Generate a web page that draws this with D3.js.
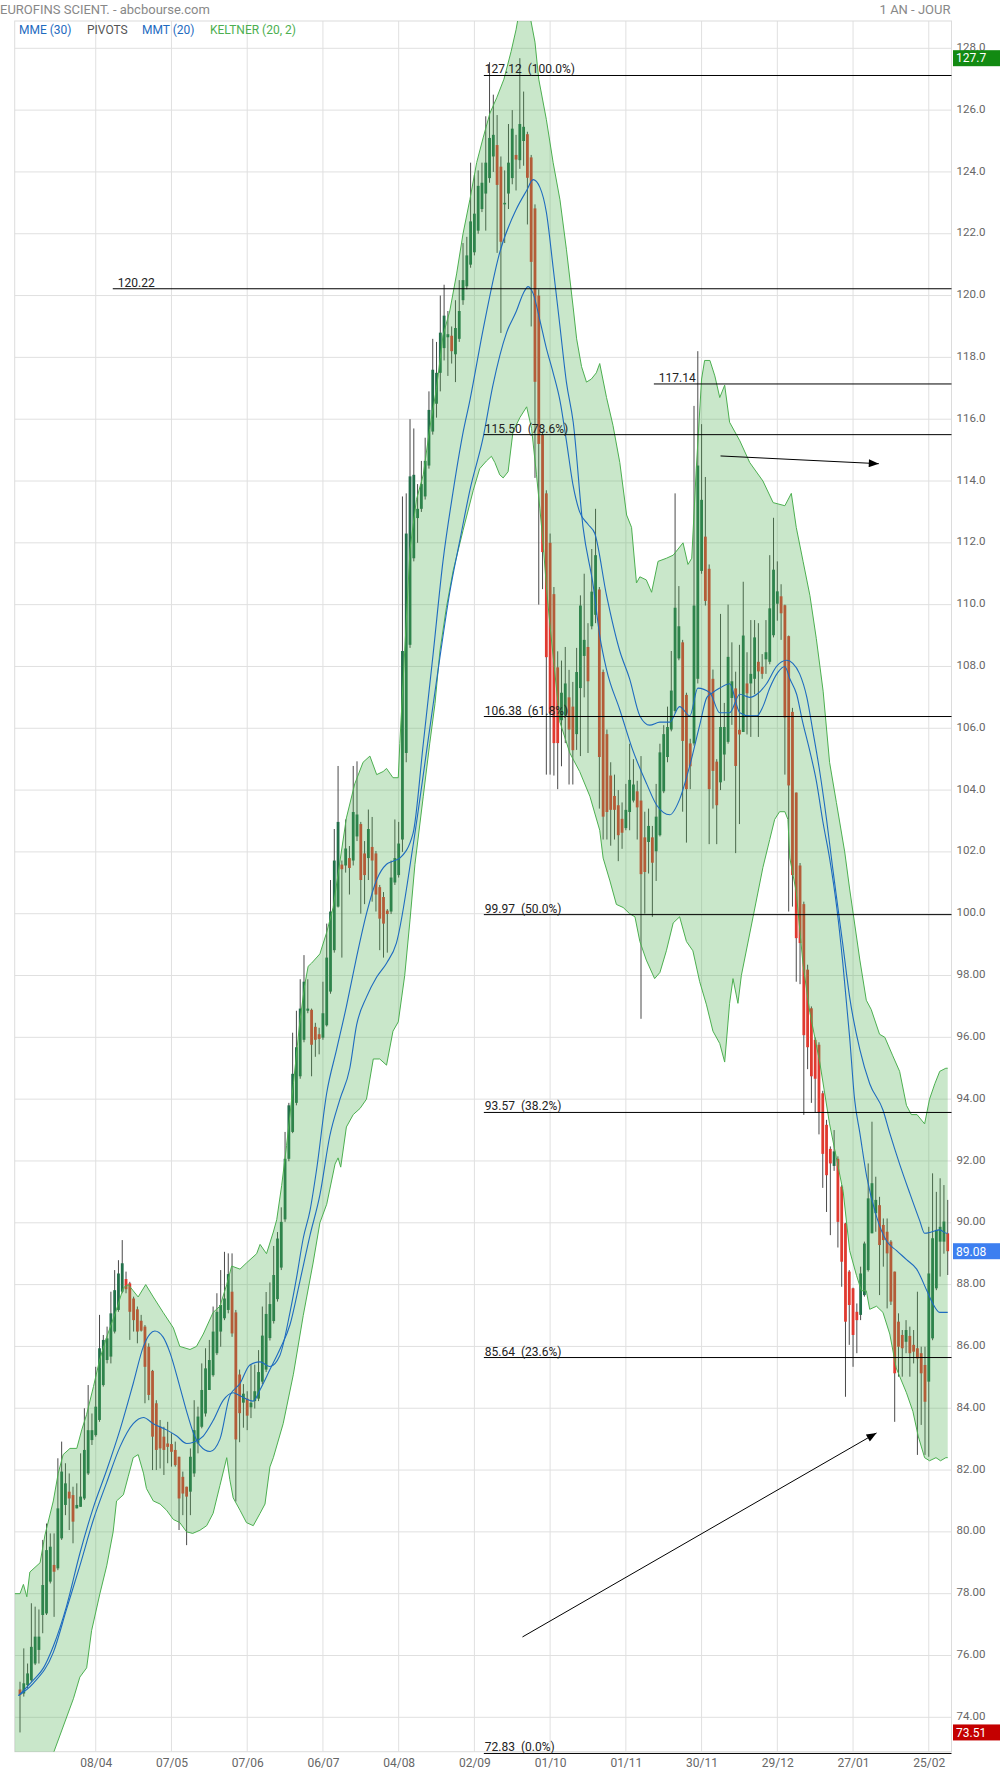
<!DOCTYPE html>
<html><head><meta charset="utf-8">
<script src="https://cdn.jsdelivr.net/npm/d3@7"></script>
<style>
body{margin:0;background:#fff;}
svg{display:block;font-family:Roboto,"Liberation Sans",sans-serif;}
</style></head><body>
<svg id="c" width="1000" height="1774"></svg>
<script>
// ---------------- DATA ----------------
const opens = [
74.90,74.77,75.04,75.20,75.74,76.18,77.31,77.36,78.39,78.93,
78.82,79.79,80.87,81.30,81.19,80.76,80.81,81.08,81.89,82.97,
83.13,83.62,84.75,85.56,85.67,86.48,87.18,87.77,88.18,88.04,
87.55,87.20,86.83,86.64,85.99,85.21,84.16,83.40,83.08,82.86,
82.84,82.65,82.43,81.78,81.46,81.30,81.89,82.86,83.40,83.83,
84.59,85.07,85.78,86.48,86.91,87.18,87.77,87.10,85.09,84.18,
84.31,84.03,84.23,84.31,84.86,85.25,86.27,86.82,87.53,88.55,
90.11,92.07,92.94,93.88,94.74,95.92,96.86,96.89,96.34,96.10,
95.99,96.39,97.48,98.82,100.23,101.59,101.56,101.80,101.72,102.50,
102.90,101.95,101.80,102.16,101.95,100.86,100.54,100.10,100.07,101.01,
101.25,102.4,105.2,108.7,111.5,112.8,113.1,113.5,114.5,115.6,
116.5,117.5,118.3,118.65,118.7,118.1,118.6,119.85,120.3,121.0,
121.4,122.1,122.8,123.3,123.8,124.5,124.87,124.17,122.95,123.3,
123.8,124.55,124.38,125.0,125.22,124.47,122.82,120.0,115.5,113.6,
112.0,110.34,107.97,106.26,106.41,107.0,106.7,105.81,107.3,108.34,
108.63,109.3,109.67,110.49,107.82,105.81,104.47,103.81,103.51,103.07,
102.77,103.29,103.66,103.96,103.66,102.47,102.32,102.47,102.02,102.54,
103.96,105.07,105.96,106.56,108.26,108.78,107.08,105.51,105.51,107.6,
111.09,112.2,111.16,107.6,104.92,104.25,105.15,105.56,106.98,107.29,
105.95,105.88,107.45,107.45,107.6,108.15,107.99,108.23,108.15,109.01,
110.03,110.27,109.98,108.98,106.53,103.92,101.56,100.31,98.19,96.94,
95.92,95.76,94.19,93.17,92.39,91.84,92.07,91.17,89.98,88.42,
87.88,87.12,87.02,87.66,88.47,89.66,90.31,90.57,89.93,89.71,
89.39,88.42,86.8,86.37,86.15,86.34,86.05,85.94,85.78,85.4,
84.86,86.26,87.88,89.39,89.39,89.66];
const highs = [
75.15,76.23,75.74,77.69,77.58,77.49,79.74,80.27,79.95,79.95,
82.38,82.92,82.22,81.89,81.46,81.57,82.54,84.00,84.75,83.83,
85.34,87.02,86.37,86.64,87.77,88.47,88.79,89.44,88.42,88.09,
87.61,87.29,87.02,86.69,86.10,85.24,84.26,83.62,83.40,83.56,
83.19,82.92,82.43,81.95,81.46,82.70,84.26,84.05,85.45,85.94,
86.21,87.29,87.72,88.47,89.06,89.01,89.01,87.18,85.25,84.78,
84.55,85.41,85.41,85.88,87.29,87.76,88.07,89.25,89.70,90.50,
92.94,93.88,96.15,96.86,97.88,98.66,97.88,96.93,96.47,96.31,
97.80,99.68,101.09,102.74,104.78,101.72,103.05,102.19,104.78,104.93,
102.97,102.35,103.37,103.13,102.03,100.93,100.70,100.15,101.72,103.05,
102.97,113.5,113.6,116.0,115.7,113.9,114.65,115.4,116.9,118.6,
118.5,120.0,120.35,119.5,119.0,119.85,120.5,121.7,121.9,124.3,
123.9,124.05,124.3,125.8,127.55,126.5,125.84,124.5,124.05,125.55,
126.0,125.2,127.68,126.6,125.3,124.55,122.95,120.2,115.6,113.7,
112.3,110.57,108.49,108.19,108.63,107.89,107.5,108.6,110.3,111.0,
109.4,111.8,113.1,110.57,107.9,105.96,104.9,104.5,104.0,103.6,
104.2,105.5,105.0,104.3,105.1,103.3,103.4,102.84,104.2,105.5,
106.1,106.7,108.5,113.6,110.6,108.86,107.15,105.66,116.43,118.2,
115.84,114.13,111.3,107.9,105.0,109.7,106.82,110.0,108.78,107.83,
108.7,110.74,108.46,109.5,109.5,109.4,108.4,109.5,111.6,112.81,
111.4,110.66,110.0,109.0,106.66,103.92,101.64,100.39,98.35,97.0,
96.0,95.84,94.27,93.33,92.47,93.0,92.15,91.22,90.0,88.47,
87.9,87.39,88.58,89.39,91.92,93.27,91.49,90.84,90.14,90.14,
89.44,88.42,87.07,86.53,86.85,86.64,86.53,87.77,85.99,85.99,
89.87,91.6,91.0,91.44,91.22,90.74];
const lows = [
73.51,74.67,74.94,75.15,75.69,75.74,76.72,77.31,78.33,77.25,
78.76,79.74,80.54,80.06,79.63,80.76,80.81,81.03,81.84,82.81,
83.08,83.56,84.70,85.45,85.45,86.42,87.12,87.72,87.72,86.21,
86.48,86.10,86.48,84.16,84.26,82.00,82.00,82.05,81.84,82.22,
82.11,82.11,80.06,80.54,79.57,80.54,81.78,82.54,83.35,83.73,
84.59,85.02,85.72,85.99,86.85,87.07,86.31,80.98,82.90,83.37,
83.29,83.68,83.99,84.23,84.78,85.17,86.19,86.74,87.45,88.47,
90.03,91.99,92.90,93.80,94.66,95.84,96.78,94.74,95.37,95.45,
95.92,96.35,97.41,98.74,100.20,98.58,101.33,100.62,101.56,102.35,
100.00,100.31,101.09,100.39,100.07,98.82,98.58,98.74,99.99,100.93,
101.17,102.0,104.9,108.6,111.4,112.0,113.0,113.4,114.4,115.5,
116.05,116.9,117.9,117.4,117.8,117.2,118.5,119.7,120.2,120.9,
121.3,122.0,122.7,122.1,123.65,124.0,121.38,118.79,121.7,122.8,
123.6,123.4,124.1,124.2,122.3,119.0,114.1,110.0,110.5,104.5,
104.5,104.47,104.03,104.77,105.52,104.18,104.18,105.3,105.1,107.0,
105.2,109.2,109.4,103.4,102.4,102.4,102.2,102.4,101.7,102.1,
102.7,102.7,103.6,102.4,96.6,100.0,101.3,99.9,101.06,102.5,
103.9,104.9,105.9,106.5,108.2,103.3,102.3,104.03,105.44,107.45,
111.0,109.97,102.25,103.4,102.25,104.0,104.3,105.5,106.11,101.96,
102.9,105.88,105.8,105.72,107.1,105.72,107.6,107.76,108.07,108.94,
109.48,108.86,104.5,100.07,100.23,97.8,97.72,93.49,94.97,93.88,
93.56,92.86,91.13,90.35,89.6,91.68,89.2,87.93,84.37,86.05,
85.34,85.78,86.85,87.61,88.42,89.66,89.71,87.66,88.58,87.23,
87.34,83.56,85.02,85.02,85.78,85.02,85.45,82.49,83.46,82.49,
82.43,86.2,87.82,88.26,89.0,88.31];
const closes = [
74.72,75.10,75.42,76.28,76.61,76.61,78.28,79.41,79.52,78.71,
80.76,81.95,81.57,81.08,80.33,80.87,81.14,82.65,83.29,83.29,
84.05,85.94,86.21,86.26,87.07,87.82,88.36,88.69,87.85,87.12,
86.85,86.48,86.51,85.34,84.43,83.08,82.65,82.70,82.65,82.75,
82.59,82.16,81.08,81.24,81.14,82.43,83.29,83.73,84.59,85.29,
85.56,86.48,87.12,87.34,87.55,88.34,86.42,82.99,83.84,84.47,
83.76,84.18,84.55,85.17,86.35,87.05,87.37,88.31,89.49,90.03,
92.07,93.80,94.82,95.68,96.93,97.80,96.93,95.76,95.92,95.95,
96.78,98.58,100.07,101.72,102.97,101.44,102.11,101.48,103.29,103.21,
101.09,101.25,102.74,101.72,100.62,99.84,99.68,99.99,101.17,101.80,
102.27,108.5,112.3,114.15,114.2,113.1,113.9,114.65,116.3,117.6,
117.5,118.8,119.35,118.75,118.2,118.95,119.5,120.5,121.3,122.4,
122.65,123.55,123.65,124.3,125.1,125.2,123.58,121.74,123.0,124.3,
125.4,124.4,125.55,125.46,123.81,121.09,117.21,115.2,111.7,108.3,
106.5,105.52,105.52,107.15,107.45,105.96,105.29,107.82,109.97,108.86,
107.52,110.42,111.6,105.07,103.14,103.29,103.36,103.36,102.54,102.62,
103.36,104.33,104.18,103.44,101.28,101.35,102.84,101.65,103.14,105.22,
105.81,106.04,107.22,109.9,109.3,105.59,104.03,104.77,109.97,114.5,
113.39,110.12,104.03,104.62,103.51,106.04,106.04,108.31,107.52,104.78,
105.8,109.0,107.13,107.76,108.94,107.84,107.76,108.46,109.88,111.13,
110.43,109.72,106.35,104.15,101.25,99.21,99.05,96.07,95.68,94.74,
94.66,93.57,92.23,91.54,91.92,92.31,90.03,88.74,86.8,87.34,
86.37,86.85,88.36,89.33,90.79,91.28,90.74,89.28,89.44,89.01,
87.45,85.13,85.99,85.94,86.53,85.78,85.83,85.61,85.13,84.21,
88.36,89.5,89.77,89.87,90.04,89.08];

// x-axis ticks (candle index) and labels
const dateIdx = [20,40,60,80,100,120,140,160,180,200,220,240];
const dateLabels = ["08/04","07/05","07/06","06/07","04/08","02/09","01/10","01/11","30/11","29/12","27/01","25/02"];
const yTicks = d3.range(74, 128.01, 2);

// Keltner (20, 2) channel edges: [candle index, value]
const keltnerUpper = [[-1.4,78.0],[0,78.0],[0.9,78.3],[1.8,77.9],[2.6,78.7],[5.3,79.0],[6.6,79.9],[8.8,81.0],[10.1,81.9],[11.4,82.5],[13.2,82.7],[15.0,82.7],[16.3,83.3],[17.6,83.8],[19.4,84.7],[21.1,85.6],[22.9,86.3],[25.5,87.2],[27.3,87.9],[28.6,88.0],[29.9,87.8],[31.2,87.6],[33.2,88.0],[35.2,87.6],[37.8,87.1],[40.5,86.6],[42.2,86.0],[44.9,85.9],[46.6,86.0],[48.4,86.4],[51.0,87.1],[52.8,87.3],[54.6,88.0],[55.9,88.6],[58.1,88.5],[59.8,88.7],[62.5,89.0],[63.4,89.3],[65.1,89.0],[66.9,89.7],[67.8,90.1],[69.1,91.2],[70.4,92.5],[72.2,94.5],[73.9,96.5],[75.2,97.7],[76.1,98.3],[77.0,98.4],[79.2,98.7],[81.0,99.4],[82.7,100.2],[84.5,101.7],[86.2,103.1],[88.4,104.2],[90.6,104.9],[92.4,105.1],[94.2,104.5],[95.9,104.6],[96.8,104.7],[98.5,104.4],[99.9,104.4],[100.3,105.5],[101.6,108.5],[103.0,111.8],[104.7,113.4],[106.5,114.2],[108.2,115.7],[110.0,117.0],[111.7,118.7],[113.5,119.5],[115.3,120.7],[117.0,122.0],[118.8,123.1],[120.6,124.3],[122.3,125.1],[124.1,125.9],[125.9,126.4],[127.8,127.0],[129.7,127.9],[131.0,128.6],[132.0,129.3],[133.3,129.5],[134.6,129.1],[136.0,128.2],[137.0,127.0],[139.0,125.7],[140.8,124.3],[142.6,123.1],[144.3,121.5],[146.1,119.6],[147.0,118.6],[148.3,117.7],[149.6,117.2],[150.9,117.3],[152.2,117.5],[153.1,117.8],[154.9,116.7],[156.6,115.8],[158.4,114.6],[160.2,112.9],[161.5,112.5],[162.8,110.7],[163.7,110.9],[165.4,110.8],[166.8,110.4],[168.5,111.4],[170.7,111.5],[172.5,111.6],[175.1,112.0],[176.4,111.3],[177.4,111.5],[178.6,114.4],[180.0,117.3],[180.8,117.9],[182.2,117.9],[183.5,117.4],[184.8,116.7],[186.1,117.1],[187.4,115.9],[190.1,115.3],[192.7,114.6],[196.2,114.0],[198.9,113.3],[202.0,113.2],[203.7,113.6],[205.0,112.5],[206.8,111.4],[208.6,110.3],[210.3,108.9],[212.1,107.2],[213.8,104.9],[215.6,103.6],[217.8,102.0],[219.1,100.8],[221.8,98.5],[223.5,97.2],[224.8,96.9],[227.0,96.1],[228.4,96.0],[230.5,95.4],[232.3,94.9],[234.1,93.8],[235.4,93.5],[236.9,93.5],[238.9,93.2],[240.2,94.0],[241.6,94.5],[242.9,94.9],[244.5,95.0],[245,95.0]];
const keltnerLower = [[-1.4,70.2],[5.3,71.6],[9.0,72.9],[14.1,74.6],[15.8,75.3],[17.6,75.6],[18.9,76.8],[21.1,78.0],[22.9,78.9],[24.6,80.0],[25.5,81.0],[27.3,81.2],[28.6,81.8],[29.9,82.4],[31.2,82.5],[32.6,81.9],[33.4,81.4],[35.2,81.0],[37.0,80.9],[38.7,80.7],[40.5,80.4],[42.2,80.3],[44.0,80.0],[45.6,79.95],[47.5,80.05],[49.3,80.2],[51.0,80.6],[52.8,81.5],[54.6,82.4],[55.4,81.7],[56.3,81.1],[58.1,80.7],[59.8,80.3],[61.6,80.2],[63.4,80.6],[64.7,80.9],[66.0,82.1],[66.9,82.4],[69.5,83.5],[72.2,85.1],[74.8,87.0],[77.4,88.7],[79.2,90.0],[81.0,90.6],[83.2,91.9],[84.0,92.1],[84.7,91.8],[86.2,93.1],[88.0,93.5],[89.8,93.7],[91.5,94.0],[93.3,95.3],[95.0,95.3],[96.8,95.1],[98.5,96.2],[99.9,96.5],[101.6,98.0],[103.0,99.8],[104.3,101.6],[106.5,103.8],[108.2,105.5],[109.6,106.8],[110.9,108.5],[112.6,109.9],[114.4,111.1],[117.0,112.4],[119.7,113.7],[121.4,114.4],[123.2,114.65],[124.5,114.8],[125.4,114.6],[126.7,114.2],[127.6,114.1],[128.9,114.3],[130.2,115.6],[132.0,116.05],[133.8,116.4],[135.1,115.7],[136.4,114.2],[137.3,113.1],[138.2,111.9],[139.0,110.6],[139.9,109.4],[142.6,106.2],[145.2,105.2],[147.8,104.6],[150.5,103.8],[153.1,102.7],[154.0,101.8],[155.8,101.06],[157.5,100.3],[159.3,100.2],[161.0,100.0],[162.4,99.9],[163.7,99.1],[165.4,98.5],[167.6,97.9],[169.0,98.1],[170.7,98.8],[172.5,99.7],[174.2,99.9],[176.0,99.1],[177.7,98.8],[179.5,97.8],[181.3,97.05],[183.0,96.2],[184.8,95.8],[186.1,95.2],[187.4,97.1],[188.3,97.9],[189.6,97.1],[190.5,98.0],[193.6,99.9],[196.2,101.5],[198.0,102.4],[199.3,103.05],[200.6,103.3],[202.0,103.3],[202.8,103.05],[203.3,101.8],[205.0,100.7],[206.8,98.35],[208.6,96.8],[211.2,95.2],[213.8,93.2],[215.6,92.1],[217.4,91.0],[219.1,89.1],[220.9,88.3],[222.2,87.8],[223.5,87.8],[224.4,87.2],[226.2,87.3],[227.9,87.1],[229.7,86.4],[231.4,85.3],[234.1,84.5],[235.8,83.9],[237.2,83.1],[238.9,82.4],[240.2,82.3],[241.9,82.4],[243.1,82.3],[244.5,82.4],[245,82.4]];
// MMT (20) and MME (30): [candle index, value]
const mmt20 = [[-0.4,74.7],[3.5,75.2],[6.2,75.6],[8.8,76.3],[12.3,77.6],[15.8,79.3],[19.4,80.8],[22.9,82.0],[26.4,83.3],[29.9,84.8],[32.6,86.0],[34.3,86.4],[35.6,86.5],[37.8,86.3],[39.6,85.8],[42.2,84.7],[44.0,83.9],[45.8,83.2],[47.5,82.8],[50.2,82.6],[52.8,83.0],[55.4,84.4],[58.1,84.8],[60.7,85.4],[63.4,85.5],[66.0,85.35],[68.6,85.7],[71.3,87.1],[73.0,88.2],[74.8,89.5],[76.6,90.4],[78.3,91.7],[81.0,94.2],[83.6,95.6],[86.2,97.0],[88.9,98.6],[91.5,100.0],[94.2,101.1],[96.8,101.6],[98.5,101.7],[100.3,101.8],[103.8,102.6],[106.5,105.5],[109.1,108.4],[111.7,111.4],[114.3,113.6],[116.9,115.5],[118.8,116.6],[122.3,118.9],[126.7,121.4],[131.1,122.8],[133.8,123.4],[135.5,123.75],[137.3,123.5],[139.0,122.7],[140.8,120.9],[142.6,119.0],[144.3,117.2],[146.1,115.9],[148.7,112.5],[151.4,110.6],[153.1,109.0],[154.9,107.9],[158.4,106.6],[161.8,105.3],[165.5,104.2],[168.2,103.5],[171.6,103.2],[174.2,103.7],[176.9,104.8],[179.5,106.1],[181.4,107.0],[182.9,107.15],[184.8,107.3],[187.4,107.44],[190.1,106.5],[192.7,106.4],[194.6,106.4],[196.2,106.7],[198.0,107.3],[200.1,107.8],[202.0,108.0],[203.3,107.6],[205.1,107.1],[206.7,106.2],[208.6,105.25],[210.3,104.3],[212.0,103.0],[213.8,101.8],[215.7,100.2],[217.3,98.4],[219.1,96.0],[220.4,94.0],[221.8,92.9],[223.6,91.5],[226.2,90.2],[228.9,89.4],[231.5,89.1],[234.2,88.8],[236.8,88.5],[239.5,87.8],[241.0,87.4],[242.9,87.1],[244.7,87.1],[245,87.1]];
const mme30 = [[-0.4,74.7],[3.5,75.1],[8.8,76.1],[12.3,77.5],[15.8,78.9],[19.4,80.4],[22.9,81.6],[26.4,82.75],[29.9,83.5],[32.6,83.7],[35.2,83.5],[38.7,83.3],[41.4,83.1],[44.0,82.86],[45.8,82.9],[48.4,83.1],[51.0,83.6],[53.7,84.26],[56.3,84.5],[58.1,84.4],[61.6,84.23],[63.4,84.6],[66.0,85.25],[68.6,85.9],[71.3,86.7],[73.9,88.1],[76.6,89.6],[79.2,90.9],[81.8,92.8],[84.5,94.0],[87.1,95.0],[88.9,96.4],[91.5,97.3],[94.2,97.95],[96.8,98.4],[99.4,99.05],[103.8,102.2],[108.2,105.98],[110.9,108.3],[113.5,110.4],[116.2,112.1],[118.8,113.7],[122.3,115.4],[124.9,117.1],[128.5,118.8],[131.1,119.5],[132.9,120.07],[134.2,120.29],[135.5,120.07],[137.3,119.2],[139.0,118.3],[140.8,117.5],[142.6,116.6],[144.3,115.3],[146.0,113.9],[147.8,113.0],[150.0,112.6],[151.8,112.3],[154.9,110.3],[158.4,108.5],[161.0,107.6],[163.7,106.4],[166.3,106.1],[169.0,106.2],[171.6,106.2],[174.2,106.7],[176.9,106.4],[179.0,107.3],[182.2,107.15],[184.8,106.5],[187.4,106.5],[190.1,107.1],[192.7,107.0],[194.6,107.1],[197.2,107.45],[199.8,108.0],[202.5,108.2],[204.1,108.1],[205.9,107.76],[207.8,107.0],[209.4,105.9],[211.2,104.6],[213.0,103.05],[214.6,101.5],[216.0,100.2],[217.3,99.0],[219.1,97.3],[221.8,95.6],[224.4,94.5],[227.9,93.65],[229.7,92.9],[232.3,91.9],[235.0,90.95],[237.6,90.07],[238.9,89.66],[240.7,89.7],[242.9,89.77],[244.7,89.66],[245,89.66]];

// Fibonacci retracement levels and pivots
const fibLevels = [127.12,115.50,106.38,99.97,93.57,85.64,72.83];
const fibPercents = ["100.0%","78.6%","61.8%","50.0%","38.2%","23.6%","0.0%"];
const fibStartIdx = 122.5;
const pivotLevels = [120.22,117.14];
const pivotStartIdx = [24.5,167.4];
// annotation arrows: [[idx,value] start, [idx,value] end]
const arrowSegs = [[[185,114.81],[226.8,114.56]],[[132.7,76.6],[226.2,83.2]]];

const legendItems = [{t:"MME (30)",c:"#1e6bbf"},{t:"PIVOTS",c:"#555"},{t:"MMT (20)",c:"#1e6bbf"},{t:"KELTNER (20, 2)",c:"#4caf50"}];

// ---------------- LAYOUT ----------------
const PL=14.7, PR=951.5, PT=21, PB=1751.7;
const svg=d3.select('#c');
const x=d3.scaleLinear().domain([-1.4,246]).range([PL,PR]);
const y=d3.scaleLinear().domain([74,128]).range([1717.3,48.3]);
const fmt=v=> v>=100 ? v.toFixed(1) : v.toFixed(2);

const defs=svg.append('defs');
defs.append('clipPath').attr('id','clip').append('rect').attr('x',PL).attr('y',PT).attr('width',PR-PL).attr('height',PB-PT);
defs.append('marker').attr('id','ah').attr('viewBox','0 0 10 8').attr('refX',10).attr('refY',4)
  .attr('markerWidth',11).attr('markerHeight',8).attr('markerUnits','userSpaceOnUse').attr('orient','auto')
  .append('path').attr('d','M0,0L10,4L0,8Z').attr('fill','#000');

// grid
const grid=svg.append('g');
grid.selectAll('line.h').data(yTicks).join('line').attr('class','h')
  .attr('x1',PL).attr('x2',PR).attr('y1',d=>y(d)).attr('y2',d=>y(d)).attr('stroke','#e0e0e0');
grid.selectAll('line.v').data(dateIdx).join('line').attr('class','v')
  .attr('x1',d=>x(d)).attr('x2',d=>x(d)).attr('y1',PT).attr('y2',PB).attr('stroke','#e0e0e0');
grid.append('rect').attr('x',PL).attr('y',PT).attr('width',PR-PL).attr('height',PB-PT).attr('fill','none').attr('stroke','#dcdcdc');

const plot=svg.append('g').attr('clip-path','url(#clip)');
const N=closes.length;
const idx=d3.range(N);
// candles
plot.selectAll('line.w').data(idx).join('line').attr('class','w')
  .attr('x1',i=>x(i)).attr('x2',i=>x(i)).attr('y1',i=>y(highs[i])).attr('y2',i=>y(lows[i]))
  .attr('stroke','#4a4a4a').attr('stroke-width',1);
plot.selectAll('rect.b').data(idx).join('rect').attr('class','b')
  .attr('x',i=>x(i)-1.4).attr('width',2.8)
  .attr('y',i=>y(Math.max(opens[i],closes[i])))
  .attr('height',i=>Math.max(1,Math.abs(y(opens[i])-y(closes[i]))))
  .attr('fill',i=>closes[i]>=opens[i]?'#22704a':'#e0392f');

// Keltner band (drawn over candles, translucent)
const ln=d3.line().x(d=>x(d[0])).y(d=>y(d[1]));
const bandPts=keltnerUpper.concat(keltnerLower.slice().reverse());
plot.append('path').attr('d',ln(bandPts)+'Z').attr('fill','rgb(76,175,80)').attr('fill-opacity',0.3).attr('stroke','none');
plot.append('path').attr('d',ln(keltnerUpper)).attr('fill','none').attr('stroke','#4caf50').attr('stroke-width',1);
plot.append('path').attr('d',ln(keltnerLower)).attr('fill','none').attr('stroke','#4caf50').attr('stroke-width',1);

// moving averages
const sm=d3.line().x(d=>x(d[0])).y(d=>y(d[1])).curve(d3.curveMonotoneX);
[mmt20,mme30].forEach(s=>plot.append('path').attr('d',sm(s)).attr('fill','none').attr('stroke','#1e6bbf').attr('stroke-width',1.1));

// fib lines
const fg=svg.append('g');
fibLevels.forEach((v,k)=>{
  fg.append('line').attr('x1',x(fibStartIdx)).attr('x2',PR).attr('y1',y(v)).attr('y2',y(v)).attr('stroke','#000').attr('stroke-width',1);
  fg.append('text').attr('x',x(fibStartIdx)+1).attr('y',y(v)-2).attr('font-size',12).attr('fill','#222')
    .style('white-space','pre').text(v.toFixed(2)+'  ('+fibPercents[k]+')');
});
pivotLevels.forEach((v,k)=>{
  fg.append('line').attr('x1',x(pivotStartIdx[k])).attr('x2',PR).attr('y1',y(v)).attr('y2',y(v)).attr('stroke','#000').attr('stroke-width',1);
  fg.append('text').attr('x',x(pivotStartIdx[k])+5).attr('y',y(v)-2).attr('font-size',12).attr('fill','#222').text(v.toFixed(2));
});
// arrows
arrowSegs.forEach(s=>{
  fg.append('line').attr('x1',x(s[0][0])).attr('y1',y(s[0][1])).attr('x2',x(s[1][0])).attr('y2',y(s[1][1]))
    .attr('stroke','#000').attr('stroke-width',1).attr('marker-end','url(#ah)');
});

// axes
const ya=svg.append('g').attr('transform',`translate(${PR+1.5},0)`)
  .call(d3.axisRight(y).tickValues(yTicks).tickFormat(fmt).tickSize(0).tickPadding(3.5));
ya.select('.domain').remove();
ya.selectAll('text').attr('fill','#666').attr('font-size',11.5).attr('font-family','Roboto').attr('dy','0.18em');
const xa=svg.append('g').attr('transform',`translate(0,${PB})`)
  .call(d3.axisBottom(x).tickValues(dateIdx).tickFormat((d,i)=>dateLabels[i]).tickSize(0).tickPadding(7));
xa.select('.domain').remove();
xa.selectAll('text').attr('fill','#666').attr('font-size',12).attr('font-family','Roboto');

// price tags
const tags=[{v:d3.max(highs),c:'#128a12'},{v:closes[N-1],c:'#3d7ff0'},{v:d3.min(lows),c:'#c40000'}];
tags.forEach(t=>{
  svg.append('rect').attr('x',PR+1.5).attr('y',y(t.v)-8).attr('width',1000-PR).attr('height',16).attr('fill',t.c);
  svg.append('text').attr('x',PR+4.5).attr('y',y(t.v)+4.3).attr('font-size',12).attr('fill','#fff').text(fmt(t.v));
});

// header
svg.append('text').attr('x',0).attr('y',14).attr('font-size',13).attr('fill','#888').text('EUROFINS SCIENT. - abcbourse.com');
svg.append('text').attr('x',PR-1).attr('y',14).attr('text-anchor','end').attr('font-size',13).attr('fill','#888').text('1 AN - JOUR');
const legX=[19,87,142,210];
legendItems.forEach((d,k)=>svg.append('text').attr('x',legX[k]).attr('y',33.5).attr('font-size',12).attr('fill',d.c).text(d.t));
</script>
</body></html>
